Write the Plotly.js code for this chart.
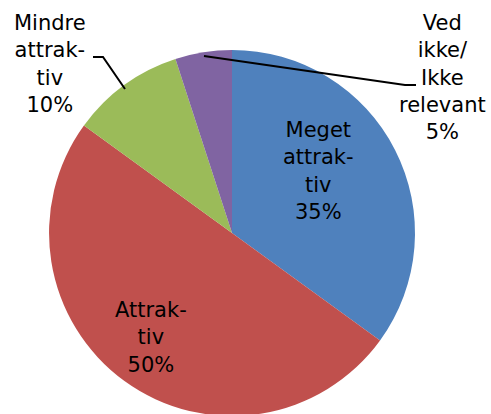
<!DOCTYPE html>
<html>
<head>
<meta charset="utf-8">
<script src="https://cdn.plot.ly/plotly-3.0.1.min.js"></script>
<style>
  html, body { margin: 0; padding: 0; overflow: hidden; background: #fff; }
  #pieChart { width: 491px; height: 416px; }
</style>
</head>
<body>
<div id="pieChart"></div>
<script>
var pieDiv = document.getElementById('pieChart');

// data
var labels = ['Meget attraktiv', 'Attraktiv', 'Mindre attraktiv', 'Ved ikke/Ikke relevant'];
var labelLines = ['Meget<br>attrak-<br>tiv', 'Attrak-<br>tiv', 'Mindre<br>attrak-<br>tiv', 'Ved<br>ikke/<br>Ikke<br>relevant'];
var values = [35, 50, 10, 5];
var colors = ['#4F81BD', '#C0504D', '#9BBB59', '#8064A2'];

var W = 491, H = 416;
// pixel -> paper helpers
function px(x) { return x / W }
function py(y) { return 1 - y / H }

var pie = {
  type: 'pie',
  labels: labels,
  values: values,
  sort: false,
  direction: 'clockwise',
  rotation: 0,
  textinfo: 'none',
  hoverinfo: 'label+percent',
  showlegend: false,
  marker: {
    colors: colors,
    line: {width: 0}
  },
  domain: {x: [px(49), px(415)], y: [0, 366 / H]}
}

// where each label block sits (pixels)
var labelPos = [[318, 171], [151, 337], [50, 64], [442, 77]];

var annotations = labels.map(function (l, i) {
  return {
    xref: 'paper', yref: 'paper',
    x: px(labelPos[i][0]), y: py(labelPos[i][1]),
    xanchor: 'center', yanchor: 'middle', align: 'center',
    showarrow: false,
    text: labelLines[i] + '<br>' + values[i] + '%',
    font: {family: 'DejaVu Sans, Verdana, sans-serif', size: 21, color: '#000'}
  }
})

// leader lines for the outside labels
var leaderLines = [
  [[93, 57], [103, 57], [125, 89]],
  [[204, 56], [405, 85], [416, 85]]
];
var shapes = leaderLines.map(function (pts) {
  var path = pts.map(function (p, j) {
    return (j ? 'L' : 'M') + px(p[0]) + ',' + py(p[1]);
  }).join(' ');
  return {type: 'path', xref: 'paper', yref: 'paper', path: path, line: {color: '#000', width: 2}};
})

var layout = {
  width: W,
  height: H,
  margin: {l: 0, r: 0, t: 0, b: 0},
  paper_bgcolor: '#fff',
  annotations: annotations,
  shapes: shapes
}

Plotly.newPlot(pieDiv, [pie], layout, {displayModeBar: false});
</script>
</body>
</html>
